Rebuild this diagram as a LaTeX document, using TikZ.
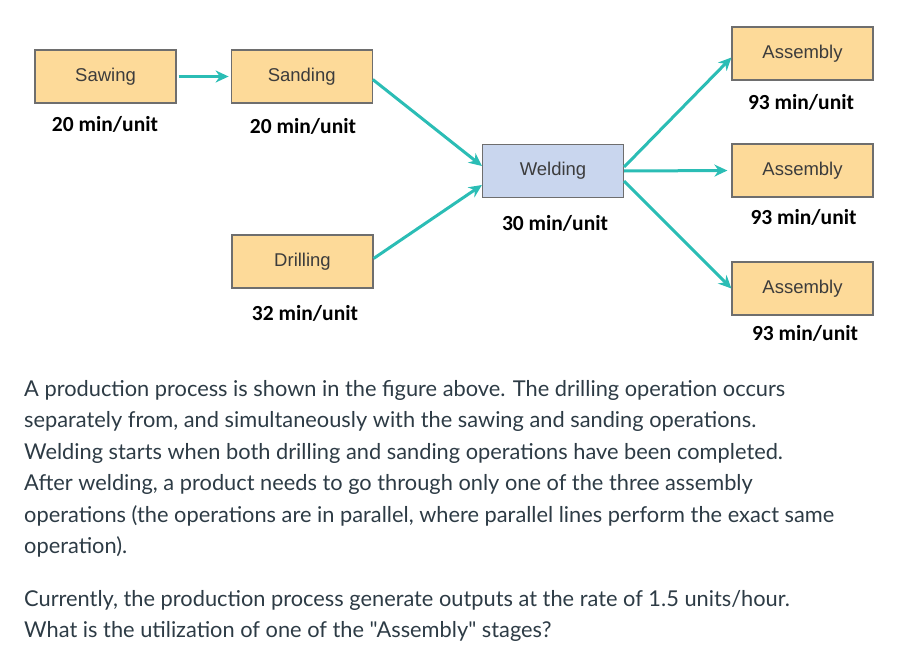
\documentclass[tikz,border=0pt]{standalone}
\usepackage{fontspec}
\setmainfont{Lato}[Ligatures=TeXOff]
\newfontfamily\arialfont{Liberation Sans}
\newfontfamily\calfont{Carlito}
\usetikzlibrary{arrows.meta,positioning}
\definecolor{stagefill}{RGB}{253,218,153}
\definecolor{weldfill}{RGB}{201,214,238}
\definecolor{flowteal}{RGB}{43,189,181}
\definecolor{boxline}{RGB}{110,110,110}
\definecolor{textgray}{RGB}{60,60,60}
\definecolor{paratext}{RGB}{45,59,69}

\begin{document}
\begin{tikzpicture}[x=1pt, y=-1pt, node distance=54pt,
  stage/.style={draw=boxline, line width=1.2pt, fill=stagefill, minimum width=141pt, minimum height=53pt, inner sep=0pt, font=\arialfont\fontsize{18.5}{20}\selectfont, text=textgray},
  rate/.style={anchor=base, inner sep=0pt, font=\calfont\bfseries\fontsize{21.5}{24}\selectfont},
  flow/.style={draw=flowteal, line width=3pt, -{Stealth[length=13pt, width=12pt]}},
  para/.style={anchor=base west, inner sep=0pt, align=left, text=paratext, font=\fontsize{21.8}{31.5}\selectfont}]
\useasboundingbox (0,0) rectangle (899,650);
\node[stage] (sawing) at (105.5,76.5) {Sawing};
\node[stage, right=54pt of sawing] (sanding) {Sanding};
\node[stage] (drilling) at (302.5,261.5) {Drilling};
\node[stage, fill=weldfill] (welding) at (553,171) {Welding};
\node[stage] (asm1) at (802.5,53.5) {Assembly};
\node[stage] (asm2) at (802.5,170.5) {Assembly};
\node[stage] (asm3) at (802.5,288.5) {Assembly};
% times per unit
\node[rate] (sawingrate) at (105,131.7) {20 min/unit};
\node[rate] (sandingrate) at (303,134) {20 min/unit};
\node[rate] (drillingrate) at (305,320) {32 min/unit};
\node[rate] (weldingrate) at (555,230.7) {30 min/unit};
\node[rate] (asmrate1) at (801,109.3) {93 min/unit};
\node[rate] (asmrate2) at (803.5,224) {93 min/unit};
\node[rate] (asmrate3) at (805,340.7) {93 min/unit};
% flow between stages
\draw[flow, shorten <=2pt, shorten >=2pt] (sawing) -- (sanding);
\draw[flow] ([yshift=-3pt]sanding.east) -- ([yshift=5pt]welding.west);
\draw[flow] ([yshift=3pt]drilling.east) -- ([yshift=-14pt]welding.west);
\draw[flow] ([yshift=4pt]welding.east) -- ([yshift=-4pt]asm1.west);
\draw[flow, shorten >=4pt] (welding.east) -- (asm2.west);
\draw[flow] ([yshift=-10pt]welding.east) -- (asm3.west);
% question text (base = last line)
\node[para] (question) at (24,553.5) {A production process is shown in the figure above. The drilling operation occurs\\
separately from, and simultaneously with the sawing and sanding operations.\\
Welding starts when both drilling and sanding operations have been completed.\\
After welding, a product needs to go through only one of the three assembly\\
operations (the operations are in parallel, where parallel lines perform the exact same\\
operation).};
\node[para] (ask) at (24,637.5) {Currently, the production process generate outputs at the rate of 1.5 units/hour.\\
What is the utilization of one of the "Assembly" stages?};
\end{tikzpicture}
\end{document}
